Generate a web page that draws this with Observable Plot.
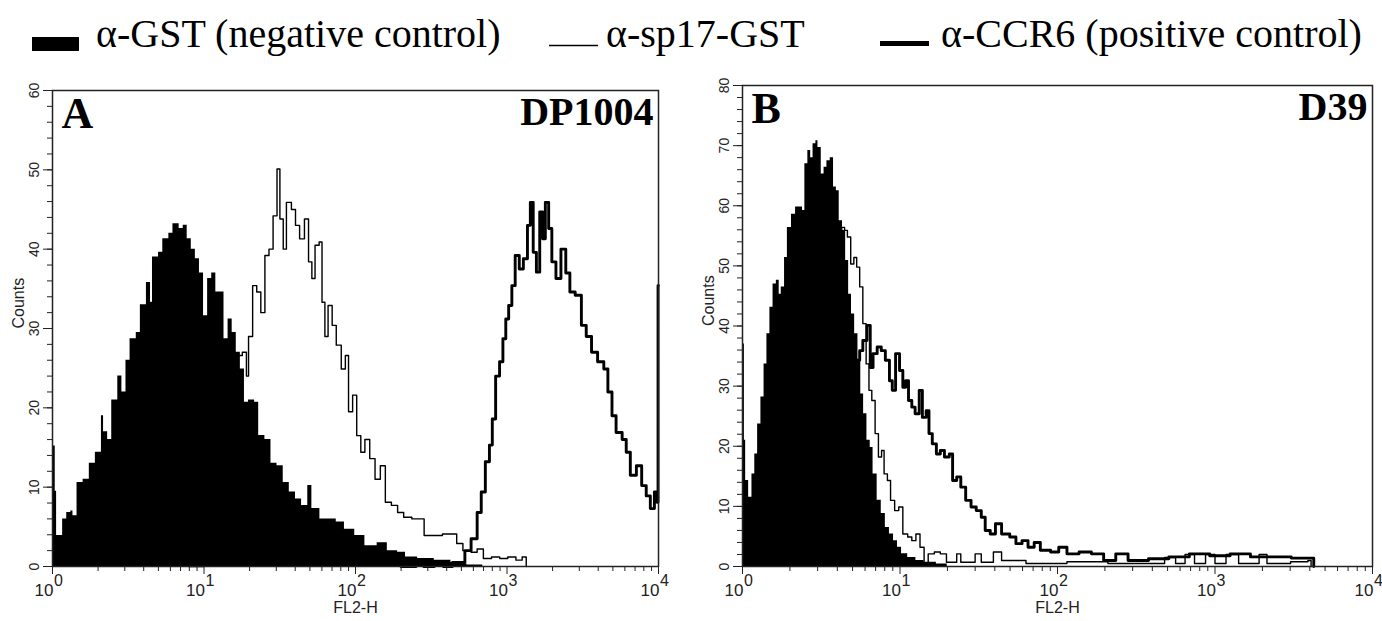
<!DOCTYPE html>
<html><head><meta charset="utf-8">
<script src="https://cdn.jsdelivr.net/npm/d3@7"></script>
<script src="https://cdn.jsdelivr.net/npm/@observablehq/plot@0.6"></script>
<style>
html,body{margin:0;padding:0;background:#fff;}
#root{position:relative;width:1382px;height:621px;overflow:hidden;background:#fff;}
.panel{position:absolute;}
#legend{position:absolute;left:0;top:0;}
</style></head><body><div id="root"></div>
<script>
// ---- Legend / labels ----
const seriesNames = ["α-GST (negative control)", "α-sp17-GST", "α-CCR6 (positive control)"];
const panelLetters = ["A", "B"];
const panelNames = ["DP1004", "D39"];
const xTickValues = [1, 10, 100, 1000, 10000];
const xTickBase = ["10", "10", "10", "10", "10"];
const xTickExp = ["0", "1", "2", "3", "4"];
const xLabel = "FL2-H";
const yLabel = "Counts";
const yMaxA = 60, yMaxB = 80;

// ---- Panel A (DP1004): positions in log10(FL2-H), counts ----
const A_negLog = [0.000,0.018,0.027,0.067,0.094,0.121,0.135,0.162,0.202,0.243,0.283,0.323,0.337,0.364,0.391,0.431,0.458,0.485,0.512,0.553,0.580,0.620,0.647,0.660,0.700,0.728,0.768,0.795,0.836,0.863,0.889,0.916,0.943,0.970,0.997,1.024,1.051,1.078,1.105,1.132,1.159,1.186,1.213,1.240,1.267,1.294,1.334,1.361,1.402,1.442,1.482,1.523,1.563,1.604,1.644,1.685,1.712,1.765,1.819,1.873,1.927,1.995,2.062,2.143,2.210,2.278,2.330,2.410,2.520,2.630,2.680,2.736,2.840];
const A_negCount = [15.2,9.5,3.9,6,6.8,7,6.4,10.6,11,13,14.4,19,17,16,21,24,22,26,28.7,29.5,33,35.8,33.3,39,39.6,41.3,42,43.2,42.6,43,41.3,40,38.8,37,31.6,36.3,37,34.6,34.6,28.7,31.2,29.5,27,24.9,20.7,21,20.7,16.5,16,13,12.7,10.6,9.4,8.5,7.7,10.2,7.3,6,6,5.6,4.7,3.9,2.6,3,2,1.8,1.2,1,0.8,0.5,0.3,0.2,0];

const A_spLog = [0.9,1.0,1.1,1.18,1.226,1.253,1.280,1.294,1.321,1.348,1.375,1.402,1.429,1.456,1.482,1.501,1.523,1.544,1.577,1.604,1.631,1.663,1.690,1.712,1.733,1.760,1.779,1.798,1.819,1.846,1.873,1.906,1.933,1.954,1.981,2.008,2.035,2.062,2.094,2.129,2.164,2.197,2.237,2.278,2.318,2.372,2.426,2.453,2.520,2.574,2.642,2.668,2.709,2.763,2.803,2.844,2.898,2.952,3.005,3.059,3.100,3.127];
const A_spCount = [0,4,10,20,26.6,27,24,29,35.4,34.6,32,39.2,40,44.2,50.1,43.8,40,45.9,45,43,41.3,43.8,38.4,36.3,40.5,40.9,33.3,29,32.9,30.4,27.9,24.9,26.6,19.5,21.6,16.5,14.4,16,13.6,11,12.7,8.1,7.7,6.8,6.2,6,6,3.9,3.9,4.1,4.1,2.9,2,1.8,2.2,1,1.2,1,1.2,0.8,1.2,0];

const A_ccLog = [2.30,2.40,2.45,2.52,2.58,2.64,2.682,2.722,2.763,2.803,2.830,2.857,2.884,2.903,2.925,2.951,2.973,2.992,3.011,3.032,3.054,3.081,3.108,3.135,3.154,3.173,3.194,3.216,3.235,3.253,3.275,3.296,3.323,3.356,3.388,3.415,3.450,3.491,3.523,3.558,3.598,3.639,3.666,3.693,3.720,3.760,3.787,3.814,3.854,3.889,3.919,3.946,3.973,3.990,3.997,4.0];
const A_ccCount = [0,0.6,0,0.6,0,0.5,0.5,2,3.5,6.8,9.4,13.2,15.3,18.6,24,25.8,28.7,31.2,32.9,35.4,39.2,37.5,38.8,43,45.9,39.6,37.1,44.7,41.3,45.9,42.6,38.4,36.3,40,37,34.6,34.2,30.4,29,27,25.8,24.9,22,19,16.9,16,14.4,11.5,12.7,10.2,8.9,7.3,9.4,8.1,35.4,35.4];

// ---- Panel B (D39) ----
const B_negLog = [0.000,0.012,0.020,0.039,0.060,0.078,0.096,0.117,0.137,0.155,0.174,0.194,0.215,0.233,0.246,0.267,0.285,0.311,0.337,0.363,0.381,0.396,0.415,0.433,0.448,0.466,0.479,0.500,0.518,0.536,0.557,0.578,0.596,0.614,0.635,0.655,0.674,0.692,0.712,0.733,0.751,0.769,0.790,0.811,0.829,0.855,0.881,0.907,0.933,0.959,0.984,1.010,1.049,1.101,1.153,1.231,1.300];
const B_negCount = [37,21,14.3,11.5,15.4,18.7,23.7,28.2,33.7,38.7,43.1,47,47.6,45.3,46.5,51.4,56.4,58.6,59.8,59.8,59.2,67,69.2,68,70.3,70.8,69.7,65.3,66.4,67.5,68,63.1,62.5,57.5,55.9,50.9,45.3,42,38.7,34.3,28.7,25.4,21,19.8,15.4,11,8.8,6.5,5.4,4.3,3.2,2.1,1.5,1,0.7,0.4,0];

const B_spLog = [0.35,0.45,0.55,0.630,0.648,0.666,0.687,0.707,0.725,0.744,0.764,0.785,0.803,0.821,0.842,0.863,0.883,0.899,0.920,0.940,0.966,0.992,1.018,1.049,1.075,1.101,1.127,1.153,1.179,1.218,1.256,1.295,1.360,1.386,1.477,1.516,1.593,1.645,1.80,2.06,2.32,2.68,2.75,2.81,2.87,2.94,3.00,3.07,3.15,3.28,3.33,3.48,3.59,3.61];
const B_spCount = [20,45,55,56.4,55.9,54.8,50.3,51.4,49.8,46.5,40.4,33.7,29.3,27.6,22.1,18.2,19.3,15.4,14.3,11,9.3,9.9,5.4,4.9,4.3,5.4,3.2,0.4,2.1,2.4,2.1,0.7,2.1,0.7,2.1,0.7,2.4,1,0.5,0.8,0.5,1.5,0.5,2,0.5,2,0.5,2,0.5,2,0.5,0.8,1,0];

const B_ccLog = [0.3,0.5,0.65,0.70,0.725,0.744,0.764,0.790,0.811,0.829,0.855,0.881,0.907,0.933,0.951,0.972,0.997,1.018,1.036,1.054,1.075,1.096,1.122,1.142,1.166,1.184,1.205,1.231,1.256,1.282,1.313,1.334,1.360,1.386,1.417,1.451,1.484,1.516,1.541,1.573,1.606,1.645,1.697,1.736,1.775,1.813,1.852,1.891,1.956,2.008,2.060,2.137,2.215,2.293,2.370,2.448,2.578,2.707,2.837,2.966,3.096,3.225,3.355,3.484,3.614,3.627];
const B_ccCount = [5,20,30,33,34.3,35.9,37.6,40.1,33.1,35.4,36.5,35.9,34.3,30.9,29.3,35.4,32.6,29.8,30.9,27.6,26.5,25.4,29.3,24.8,25.9,22.1,20.4,18.7,19.3,18.2,18.7,14.3,14.9,13.2,11,9.9,9.3,8.2,6,5.4,7.1,5.4,4.9,3.8,4.3,3.2,4,2.7,2.4,3.2,2.1,2.4,2.1,1,2.1,1,1.3,1.6,2.1,1.8,2.1,1.6,1.6,1.4,1.4,0];

const toRows = (logs, counts) => logs.map((l, i) => ({x: Math.pow(10, l), y: counts[i]}));

const minorX = [];
for (const d of [1, 10, 100, 1000]) for (let k = 2; k <= 9; k++) minorX.push(d * k);

const root = document.getElementById("root");

// Legend (above the plots)
const ns = "http://www.w3.org/2000/svg";
const leg = document.createElementNS(ns, "svg");
leg.setAttribute("id", "legend");
leg.setAttribute("width", 1382); leg.setAttribute("height", 75);
leg.innerHTML = `
  <rect x="32" y="37" width="47" height="14" fill="#000"/>
  <text x="96" y="47" font-family="Liberation Serif, Times New Roman, serif" font-size="40">${seriesNames[0]}</text>
  <line x1="549" x2="598" y1="45.5" y2="45.5" stroke="#000" stroke-width="1.5"/>
  <text x="606" y="47" font-family="Liberation Serif, Times New Roman, serif" font-size="40">${seriesNames[1]}</text>
  <line x1="880" x2="929" y1="43.5" y2="43.5" stroke="#000" stroke-width="5"/>
  <text x="941" y="47" font-family="Liberation Serif, Times New Roman, serif" font-size="40">${seriesNames[2]}</text>`;
root.appendChild(leg);

const sans = "'Liberation Sans Narrow', 'Liberation Sans', Arial, sans-serif";
const serif = "'Liberation Serif', 'Times New Roman', serif";

function panel({neg, sp, cc, yMax, left, top, width, height, mLeft, mRight, letter, name}) {
  const yMinor = d3.range(0, yMax + 1, 2);
  const yMajor = d3.range(0, yMax + 1, 10);
  const fig = Plot.plot({
    width, height,
    marginLeft: mLeft, marginRight: mRight, marginTop: 10, marginBottom: 55,
    x: {type: "log", domain: [1, 10000]},
    y: {domain: [0, yMax]},
    style: {fontFamily: sans, background: "white", overflow: "visible", color: "#000"},
    marks: [
      Plot.areaY(neg, {x: "x", y: "y", curve: "step-after", fill: "#000"}),
      Plot.line(sp, {x: "x", y: "y", curve: "step-after", stroke: "#000", strokeWidth: 1.4}),
      Plot.line(cc, {x: "x", y: "y", curve: "step-after", stroke: "#000", strokeWidth: 2.9}),
      Plot.frame({stroke: "#222", strokeWidth: 1.5}),
      Plot.axisX({ticks: minorX, tickSize: 5, tickFormat: () => "", label: null, stroke: "#222"}),
      Plot.axisX({ticks: xTickValues, tickSize: 8, tickFormat: () => "", label: null, stroke: "#222"}),
      Plot.text(xTickValues, {x: d => d, frameAnchor: "bottom", text: (d, i) => xTickBase[i],
        textAnchor: "end", lineAnchor: "bottom", dx: 1, dy: 29, fontSize: 17, fill: "#222"}),
      Plot.text(xTickValues, {x: d => d, frameAnchor: "bottom", text: (d, i) => xTickExp[i],
        textAnchor: "start", lineAnchor: "bottom", dx: 1.5, dy: 19, fontSize: 16, fill: "#222"}),
      Plot.axisY({ticks: yMinor, tickSize: 5, tickFormat: () => "", label: null, stroke: "#222"}),
      Plot.axisY({ticks: yMajor, tickSize: 9, tickFormat: () => "", label: null, stroke: "#222"}),
      Plot.text(yMajor, {y: d => d, text: d => String(d), frameAnchor: "left", dx: -18, rotate: -90,
        fontSize: 14, fill: "#222", textAnchor: "middle", lineAnchor: "middle"}),
      Plot.text([yLabel], {text: d => d, frameAnchor: "left", dx: -34, rotate: -90, fontSize: 16, fill: "#222", lineAnchor: "middle"}),
      Plot.text([xLabel], {text: d => d, frameAnchor: "bottom", dy: 41, fontSize: 16, fill: "#222", lineAnchor: "middle"}),
      Plot.text([letter], {text: d => d, frameAnchor: "top-left", dx: 9, dy: 6, lineAnchor: "top", textAnchor: "start",
        fontFamily: serif, fontWeight: "bold", fontSize: 44, fill: "#000"}),
      Plot.text([name], {text: d => d, frameAnchor: "top-right", dx: -5, dy: 6, lineAnchor: "top", textAnchor: "end",
        fontFamily: serif, fontWeight: "bold", fontSize: 40, fill: "#000"})
    ]
  });
  fig.classList.add("panel");
  fig.style.left = left + "px";
  fig.style.top = top + "px";
  root.appendChild(fig);
}

panel({neg: toRows(A_negLog, A_negCount), sp: toRows(A_spLog, A_spCount), cc: toRows(A_ccLog, A_ccCount),
  yMax: yMaxA, left: 0, top: 80, width: 690, height: 541, mLeft: 52, mRight: 32, letter: panelLetters[0], name: panelNames[0]});
panel({neg: toRows(B_negLog, B_negCount), sp: toRows(B_spLog, B_spCount), cc: toRows(B_ccLog, B_ccCount),
  yMax: yMaxB, left: 690, top: 75, width: 692, height: 546, mLeft: 52, mRight: 10, letter: panelLetters[1], name: panelNames[1]});
</script></body></html>
